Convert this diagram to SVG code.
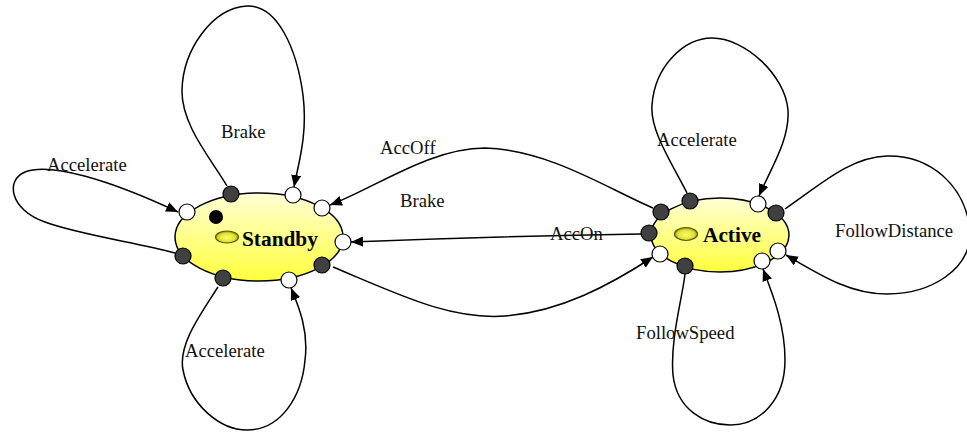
<svg xmlns="http://www.w3.org/2000/svg" width="967" height="432" viewBox="0 0 967 432">
<style>
.edge{fill:none;stroke:#000;stroke-width:1.5;marker-end:url(#arr)}
.state{stroke:#000;stroke-width:1.5;fill:url(#yg)}
.pin{stroke:#000;stroke-width:1.2;fill:#404040}
.pout{stroke:#000;stroke-width:1.2;fill:#fff}
.icon{fill:url(#og);stroke:#5a5a10;stroke-width:1.2}
.name{font-family:"Liberation Serif",serif;font-weight:bold;font-size:21.33px;fill:#000}
.lbl{font-family:"Liberation Serif",serif;font-size:18.67px;fill:#111}
</style>
<defs>
<linearGradient id="yg" x1="0" y1="0" x2="0" y2="1">
<stop offset="0" stop-color="#ffffd6"/>
<stop offset="1" stop-color="#ffff3c"/>
</linearGradient>
<radialGradient id="og" cx="0.5" cy="0.55" r="0.6">
<stop offset="0" stop-color="#ffff70"/>
<stop offset="0.6" stop-color="#e0e030"/>
<stop offset="1" stop-color="#70700a"/>
</radialGradient>
<marker id="arr" markerUnits="userSpaceOnUse" markerWidth="13" markerHeight="11" refX="12" refY="5" orient="auto">
<path d="M0,0 L12,5 L0,10 z" fill="#000"/>
</marker>
</defs>
<rect width="967" height="432" fill="#fff"/>
<g id="connectors">
<path class="edge" d="M227,186 C212,160 181,125 182,90 C183,50 212,8 247,6 C278,5 297,50 303,95 C308,135 298,165 294,187"/>
<path class="edge" d="M175,253 C140,243 80,235 45,222 C10,210 5,180 25,172 C50,162 110,180 178,212"/>
<path class="edge" d="M218,287 C200,315 178,345 183,370 C190,405 220,430 247,430 C282,430 302,395 305,360 C309,330 298,305 291,288"/>
<path class="edge" d="M653,208 C610,190 550,150 485,148 C430,148 375,188 330,205"/>
<path class="edge" d="M641,234 Q500,236 351,242"/>
<path class="edge" d="M333,267 C400,295 450,320 505,316 C560,312 610,285 653,257"/>
<path class="edge" d="M687,193 C670,160 650,130 652,105 C655,65 685,38 712,38 C745,38 785,75 788,110 C790,140 770,170 759,196"/>
<path class="edge" d="M785,209 C820,185 850,157 887,156 C930,155 965,185 970,230 C972,270 930,294 887,294 C850,294 820,275 786,255"/>
<path class="edge" d="M685,274 C682,300 670,340 673,375 C677,410 705,425 730,425 C760,425 785,400 785,360 C785,325 773,295 763,269"/>
</g>
<g id="labels">
<text class="lbl" x="221" y="138">Brake</text>
<text class="lbl" x="47" y="171">Accelerate</text>
<text class="lbl" x="185" y="357">Accelerate</text>
<text class="lbl" x="380" y="154">AccOff</text>
<text class="lbl" x="400" y="207">Brake</text>
<text class="lbl" x="550" y="240">AccOn</text>
<text class="lbl" x="657" y="146">Accelerate</text>
<text class="lbl" x="636" y="339">FollowSpeed</text>
<text class="lbl" x="835" y="237">FollowDistance</text>
</g>
<g id="standby">
<ellipse class="state" cx="259" cy="237" rx="84" ry="44"/>
<ellipse class="icon" cx="227" cy="237" rx="11.5" ry="6"/>
<text class="name" x="242" y="246">Standby</text>
<circle cx="216" cy="217" r="7" fill="#000"/>
<circle class="pin" cx="231" cy="194" r="8"/>
<circle class="pout" cx="293" cy="195" r="8"/>
<circle class="pout" cx="322" cy="208" r="8"/>
<circle class="pout" cx="343" cy="242" r="8"/>
<circle class="pin" cx="322" cy="265" r="8"/>
<circle class="pout" cx="289" cy="280" r="8"/>
<circle class="pin" cx="223" cy="278" r="8"/>
<circle class="pin" cx="183" cy="256" r="8"/>
<circle class="pout" cx="187" cy="212" r="8"/>
</g>
<g id="active">
<ellipse class="state" cx="720" cy="235" rx="69" ry="37"/>
<ellipse class="icon" cx="686" cy="234" rx="11.5" ry="6.5"/>
<text class="name" x="703" y="242">Active</text>
<circle class="pin" cx="661" cy="212" r="8"/>
<circle class="pin" cx="690" cy="201" r="8"/>
<circle class="pout" cx="758" cy="204" r="8"/>
<circle class="pin" cx="776" cy="213" r="8"/>
<circle class="pin" cx="649" cy="233" r="8"/>
<circle class="pout" cx="660" cy="254" r="8"/>
<circle class="pin" cx="685" cy="266" r="8"/>
<circle class="pout" cx="762" cy="261" r="8"/>
<circle class="pout" cx="778" cy="251" r="8"/>
</g>
</svg>
